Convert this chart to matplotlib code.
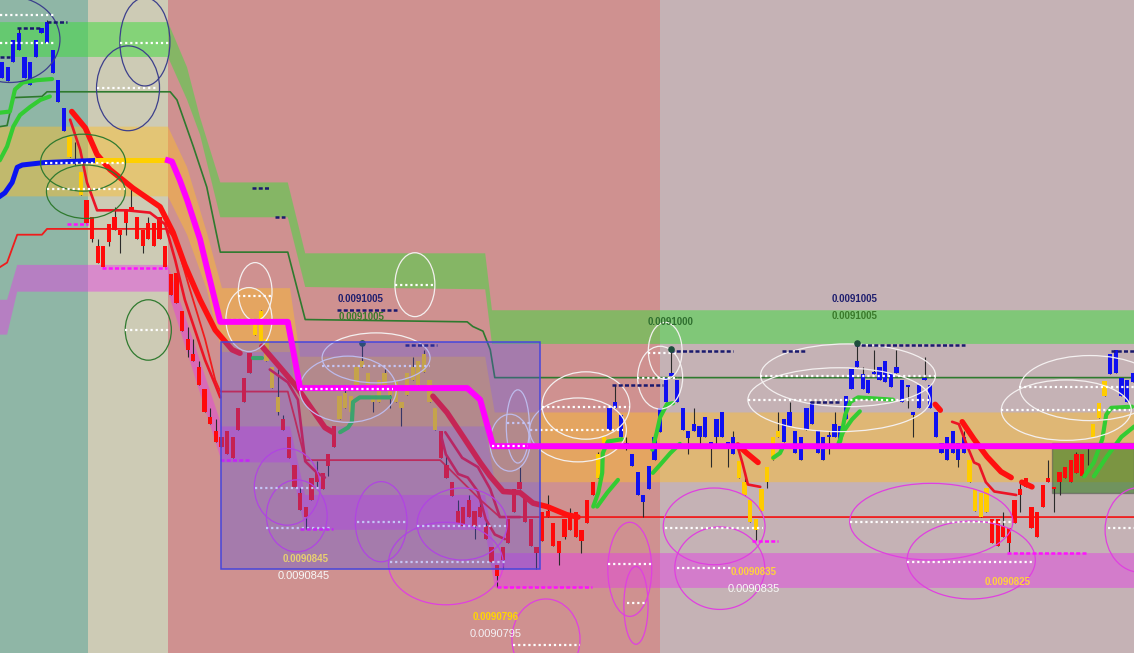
import numpy as np
import matplotlib.pyplot as plt
from matplotlib.patches import Ellipse, Rectangle

# prices in units of 0.0000001 (91005 -> 0.0091005)
opens = [91233, 91230, 91247, 91257, 91233, 91227, 91251, 91272, 91263, 91237, 91212, 91187,
         91165, 91161, 91132,
         91128, 91113, 91088, 91088, 91107, 91113, 91102, 91118, 91122, 91113, 91102, 91108, 91108, 91113, 91088,
         91064, 91065, 91032, 91008, 90995, 90984, 90965, 90941, 90929, 90924, 90929, 90924, 90949, 90975, 90996,
         91012, 91006, 90989, 90966, 90945,
         90939, 90924, 90900, 90876, 90864, 90889, 90894, 90893, 90909, 90933,
         90939, 90949, 90945, 90967, 90984, 90967, 90954, 90954, 90967, 90960, 90954, 90949, 90960, 90973, 90969,
         90980, 90954, 90930,
         90929, 90900, 90885, 90860, 90864, 90870, 90860, 90864, 90847, 90829, 90814, 90829, 90853, 90879, 90885,
         90874, 90853, 90829, 90859, 90860, 90850, 90834, 90853, 90857, 90859, 90844, 90870, 90885,
         90889, 90917,
         90930, 90949, 90924, 90916, 90899, 90874, 90868, 90879, 90904, 90928, 90954, 90976, 90954, 90930, 90923,
         90929, 90924, 90924, 90918, 90924, 90924, 90918, 90909,
         90889, 90874, 90851, 90844, 90860, 90885, 90904, 90924,
         90920, 90933, 90910, 90904, 90930, 90935, 90910, 90904, 90924, 90924, 90922, 90939, 90965, 90984, 90965,
         90962, 90978, 90973, 90971, 90967, 90979, 90954, 90967, 90943, 90949, 90973, 90949, 90924, 90910, 90904,
         90910, 90904, 90910,
         90885, 90860, 90855, 90859,
         90853, 90853, 90847, 90846, 90870, 90879, 90889, 90864, 90859, 90883, 90889, 90881, 90894, 90898, 90904,
         90909, 90909, 90917,
         90924, 90940, 90959,
         90978, 90979, 90959, 90954, 90971]
closes = [91247, 91242, 91266, 91272, 91251, 91247, 91266, 91276, 91281, 91257, 91231, 91207,
          91182, 91162, 91152,
          91108, 91094, 91074, 91070, 91092, 91102, 91098, 91108, 91118, 91094, 91088, 91094, 91088, 91094, 91070,
          91046, 91039, 91015, 90999, 90989, 90969, 90945, 90935, 90920, 90915, 90909, 90906, 90930, 90954, 90979,
          91022, 91032, 91008, 90984, 90958,
          90930, 90906, 90881, 90861, 90855, 90870, 90885, 90879, 90899, 90915,
          90959, 90962, 90959, 90984, 90989, 90979, 90960, 90973, 90979, 90969, 90973, 90954, 90979, 90984, 90989,
          90995, 90973, 90949,
          90906, 90889, 90873, 90850, 90847, 90855, 90847, 90855, 90836, 90816, 90804, 90818, 90833, 90859, 90879,
          90851, 90830, 90824, 90834, 90855, 90830, 90824, 90838, 90844, 90838, 90834, 90850, 90874,
          90909, 90924,
          90949, 90954, 90943, 90919, 90909, 90894, 90874, 90899, 90924, 90949, 90975, 90979, 90973, 90949, 90929,
          90935, 90933, 90941, 90919, 90939, 90945, 90919, 90924,
          90903, 90885, 90870, 90853, 90879, 90898, 90924, 90929,
          90939, 90945, 90929, 90924, 90949, 90954, 90929, 90924, 90926, 90935, 90933, 90959, 90982, 90989, 90978,
          90973, 90980, 90984, 90989, 90979, 90984, 90973, 90969, 90945, 90969, 90975, 90969, 90945, 90919, 90924,
          90929, 90919, 90924,
          90904, 90879, 90876, 90880,
          90833, 90830, 90838, 90833, 90850, 90874, 90881, 90846, 90838, 90864, 90885, 90879, 90885, 90889, 90885,
          90893, 90890, 90915,
          90935, 90953, 90972,
          90995, 90999, 90975, 90973, 90979]
highs = [91247, 91242, 91266, 91276, 91251, 91247, 91266, 91276, 91283, 91257, 91231, 91207,
         91182, 91178, 91152,
         91128, 91113, 91094, 91088, 91107, 91122, 91102, 91118, 91137, 91113, 91102, 91113, 91108, 91113, 91088,
         91064, 91065, 91032, 91019, 91008, 90989, 90965, 90949, 90939, 90924, 90929, 90924, 90949, 90975, 90996,
         91022, 91033, 91008, 90984, 90982,
         90943, 90924, 90900, 90880, 90864, 90889, 90903, 90893, 90909, 90933,
         90959, 90969, 90959, 90984, 91005, 90979, 90960, 90973, 90982, 90969, 90973, 90954, 90979, 90993, 90989,
         90999, 90973, 90949,
         90929, 90909, 90885, 90870, 90864, 90874, 90860, 90870, 90853, 90829, 90814, 90829, 90853, 90879, 90898,
         90874, 90853, 90829, 90859, 90874, 90850, 90834, 90853, 90863, 90859, 90844, 90870, 90885,
         90911, 90924,
         90949, 90969, 90943, 90924, 90909, 90894, 90874, 90899, 90924, 90949, 90975, 91000, 90973, 90949, 90929,
         90949, 90933, 90941, 90919, 90939, 90945, 90919, 90929,
         90903, 90894, 90870, 90853, 90879, 90898, 90924, 90945,
         90939, 90954, 90929, 90924, 90949, 90954, 90929, 90924, 90929, 90945, 90933, 90959, 90982, 91005, 90984,
         90973, 90999, 90984, 90989, 90979, 90999, 90973, 90969, 90945, 90969, 90993, 90969, 90945, 90919, 90924,
         90929, 90919, 90929,
         90904, 90879, 90876, 90880,
         90853, 90853, 90859, 90846, 90870, 90887, 90889, 90864, 90859, 90883, 90904, 90881, 90894, 90898, 90904,
         90911, 90909, 90917,
         90935, 90953, 90972,
         90995, 90999, 90975, 90973, 90979]
lows = [91233, 91230, 91247, 91257, 91233, 91227, 91251, 91272, 91263, 91237, 91212, 91187,
        91165, 91158, 91132,
        91108, 91092, 91074, 91070, 91088, 91102, 91082, 91098, 91118, 91094, 91082, 91094, 91088, 91094, 91070,
        91046, 91039, 91015, 90993, 90989, 90969, 90945, 90935, 90920, 90915, 90909, 90906, 90930, 90954, 90979,
        91012, 91006, 90989, 90966, 90943,
        90930, 90906, 90881, 90861, 90845, 90870, 90879, 90879, 90890, 90915,
        90939, 90949, 90939, 90967, 90984, 90967, 90945, 90954, 90967, 90949, 90954, 90933, 90960, 90973, 90969,
        90980, 90954, 90930,
        90906, 90889, 90873, 90850, 90847, 90855, 90836, 90855, 90836, 90816, 90795, 90810, 90833, 90859, 90879,
        90851, 90830, 90810, 90834, 90855, 90830, 90814, 90836, 90844, 90838, 90824, 90850, 90874,
        90889, 90917,
        90930, 90949, 90924, 90913, 90899, 90874, 90855, 90879, 90904, 90928, 90954, 90976, 90954, 90930, 90909,
        90929, 90916, 90924, 90898, 90917, 90924, 90898, 90909,
        90889, 90874, 90851, 90835, 90860, 90880, 90904, 90924,
        90920, 90933, 90910, 90904, 90930, 90935, 90910, 90904, 90909, 90924, 90922, 90939, 90965, 90984, 90965,
        90962, 90978, 90973, 90971, 90967, 90979, 90954, 90949, 90924, 90949, 90973, 90949, 90924, 90910, 90904,
        90910, 90898, 90910,
        90885, 90860, 90855, 90859,
        90833, 90830, 90838, 90825, 90850, 90859, 90881, 90846, 90838, 90864, 90885, 90859, 90874, 90889, 90885,
        90893, 90890, 90900,
        90924, 90940, 90959,
        90978, 90979, 90959, 90954, 90971]
# b = up trend (blue), y = neutral (gold), r = down trend (red)
trend_runs = [('b', 12), ('y', 3), ('r', 30), ('y', 5), ('r', 10), ('y', 18), ('r', 28), ('y', 2),
              ('b', 23), ('y', 8), ('b', 33), ('y', 4), ('r', 18), ('y', 3), ('b', 5)]
trend = [c for c, n in trend_runs for _ in range(n)]

# session boundaries in bar units and their tints
session_edges = [-0.4, 15.3, 29.5, 117.0, 201.3]
session_colors = ['#8fb6a6', '#cdcbb5', '#cf9190', '#c5b2b5']

# zone bands: bar, top, bottom
zone_x = {
    'green': [-0.4, 29.5, 32.9, 35.2, 38.8, 50.8, 53.9, 85.9, 87.1, 201.3],
    'orange': [-0.4, 29.5, 32.9, 36.4, 39.1, 51.2, 53.0, 85.9, 87.6, 201.3],
    'pink': [-0.4, 0.9, 2.7, 29.5, 39.1, 51.2, 53.9, 85.9, 87.6, 201.3],
}
zone_top = {
    'green': [91281, 91281, 91242, 91199, 91143, 91143, 91082, 91082, 91033, 91033],
    'orange': [91191, 91191, 91156, 91100, 91052, 91052, 90993, 90993, 90945, 90945],
    'pink': [91042, 91042, 91072, 91072, 90933, 90933, 90874, 90874, 90824, 90824],
}
zone_bot = {
    'green': [91251, 91251, 91214, 91184, 91113, 91113, 91053, 91051, 91004, 91004],
    'orange': [91131, 91131, 91098, 91051, 90997, 90997, 90933, 90933, 90885, 90885],
    'pink': [91012, 91012, 91049, 91049, 90902, 90902, 90844, 90844, 90794, 90794],
}
zone_colors = {'green': ('#3cdc3c', 0.5), 'orange': ('#ffbe28', 0.45), 'pink': ('#e63ce6', 0.45)}

# indicator lines (bar, price)
magenta_x = [29.5, 30.2, 31.6, 32.9, 35.2, 36.4, 38.8, 50.8, 53.0, 82.7, 85.0, 87.3, 201.3]
magenta_y = [91162, 91161, 91145, 91128, 91094, 91070, 91023, 91023, 90966, 90966, 90956, 90916, 90916]
blue_x = [-0.4, 0.5, 1.8, 2.7, 3.6, 7.3, 16.9]
blue_y = [91131, 91134, 91143, 91156, 91158, 91160, 91162]
gold_x = [16.9, 29.5]
gold_y = [91162, 91162]
dkgreen_x = [-0.4, 0.9, 2.0, 7.1, 8.0, 29.9, 31.1, 34.0, 36.4, 38.8, 50.8, 53.9, 82.7, 83.7, 85.5, 86.8, 87.6, 201.3]
dkgreen_y = [91191, 91192, 91216, 91217, 91221, 91221, 91214, 91174, 91139, 91083, 91083, 91025, 91023, 91019,
             91015, 90999, 90975, 90975]
thinred_x = [-0.4, 0.9, 2.7, 7.1, 8.0, 29.3, 30.8, 33.4, 36.1, 37.9, 38.8, 50.8, 52.1, 53.9, 77.9, 79.6, 85.0,
             88.5, 201.3]
thinred_y = [91070, 91074, 91098, 91098, 91103, 91103, 91094, 91051, 91008, 90973, 90963, 90963, 90939, 90904,
             90904, 90896, 90870, 90855, 90855]

red_thick = [
    ([12.4, 14.8, 16.9, 19.2, 23.3, 28.1, 30.4, 32.5, 35.2, 37.9, 40.9, 42.3],
     [91204, 91190, 91167, 91154, 91138, 91122, 91100, 91072, 91042, 91016, 90999, 90996]),
    ([46.2, 49.4, 52.4, 54.8, 57.4, 58.8], [91002, 90984, 90967, 90950, 90932, 90928]),
    ([76.6, 79.1, 82.0, 85.0, 86.8, 89.1, 92.1, 94.4, 96.9, 100.4, 102.4],
     [90959, 90945, 90924, 90902, 90890, 90877, 90876, 90867, 90864, 90857, 90855]),
    ([130.8, 132.4, 134.4], [90917, 90910, 90902]),
    ([170.7, 172.8, 175.1, 177.6, 179.4], [90937, 90922, 90907, 90894, 90889]),
    ([181.3, 183.1], [90885, 90881]),
    ([165.9, 166.8], [90952, 90947]),
]
red_mid = [
    ([12.1, 13.9, 15.1, 16.9, 22.2, 26.3, 29.0, 30.8, 32.5, 34.3, 36.1, 37.9, 38.8],
     [91197, 91171, 91143, 91119, 91119, 91117, 91107, 91076, 91042, 91016, 90990, 90969, 90958]),
    ([47.6, 50.8, 52.6, 53.9, 56.0, 57.4], [90982, 90971, 90956, 90903, 90893, 90889]),
    ([77.9, 78.9, 81.1, 82.8, 84.6, 86.0, 87.6, 89.4], [90928, 90909, 90892, 90889, 90877, 90853, 90840, 90836]),
    ([78.8, 81.8, 84.6, 86.8, 88.5, 92.1], [90928, 90906, 90898, 90879, 90855, 90855]),
    ([130.7, 131.6, 132.6, 134.8], [90917, 90902, 90883, 90881]),
    ([168.9, 170.1, 171.6, 172.8, 173.7, 174.9, 176.4, 180.3],
     [90937, 90935, 90916, 90902, 90900, 90885, 90877, 90874]),
]
green_thick = [
    ([-0.4, 0.9, 2.0, 3.2, 5.0, 6.8, 8.5], [91162, 91174, 91191, 91201, 91208, 91214, 91217]),
    ([-0.4, 1.4, 2.3, 3.7, 6.2, 8.9], [91203, 91204, 91223, 91229, 91231, 91232]),
    ([60.1, 61.5, 62.2, 62.4, 63.6, 69.0], [90928, 90932, 90937, 90954, 90958, 90958]),
    ([44.6, 46.2], [90992, 90992]),
    ([105.1, 106.0, 106.7, 106.8, 107.7, 110.2], [90864, 90876, 90893, 90910, 90920, 90922]),
    ([105.8, 107.6, 109.5], [90864, 90876, 90887]),
    ([115.7, 117.0, 118.8, 120.5], [90893, 90900, 90910, 90918]),
    ([115.6, 116.4, 117.0, 118.2, 119.3], [90913, 90928, 90941, 90952, 90953]),
    ([137.1, 138.3, 138.8], [90906, 90910, 90915]),
    ([148.6, 149.5, 151.1, 152.5], [90917, 90928, 90939, 90946]),
    ([149.0, 149.9, 150.8, 152.2, 158.4], [90920, 90943, 90954, 90958, 90956]),
    ([192.4, 194.1, 195.6, 196.3, 197.2, 200.9], [90890, 90902, 90922, 90943, 90949, 90950]),
    ([194.1, 196.4, 199.0, 201.3], [90890, 90907, 90924, 90933]),
]

# circles marking swing zones: bar, price, width (bars), height (price), colour
ellipses = [
    (1.4, 91266, 17.8, 74, '#3c3f8c'), (25.4, 91264, 8.9, 76, '#3c3f8c'), (22.4, 91224, 11.2, 73, '#3c3f8c'),
    (14.4, 91160, 15.1, 49, '#2f7a2f'), (14.9, 91135, 14.0, 46, '#2f7a2f'), (26.0, 91016, 8.2, 52, '#2f7a2f'),
    (45.0, 91049, 6.0, 50, '#f4f0f0'), (43.9, 91025, 8.2, 55, '#f4f0f0'), (73.4, 91055, 7.1, 55, '#f4f0f0'),
    (66.5, 90992, 19.2, 43, '#f4f0f0'), (61.5, 90965, 17.2, 57, '#f4f0f0'), (91.7, 90933, 4.1, 63, '#f4f0f0'),
    (90.3, 90919, 7.1, 49, '#f4f0f0'), (103.8, 90951, 15.6, 58, '#f4f0f0'), (102.4, 90930, 17.2, 55, '#f4f0f0'),
    (117.9, 90998, 6.0, 49, '#f4f0f0'), (117.0, 90975, 8.0, 54, '#f4f0f0'), (150.4, 90977, 31.1, 54, '#f4f0f0'),
    (148.8, 90956, 32.4, 55, '#f4f0f0'), (193.4, 90966, 24.9, 56, '#f4f0f0'), (189.2, 90947, 23.1, 52, '#f4f0f0'),
    (50.7, 90881, 11.7, 66, '#e040e0'), (52.4, 90856, 10.8, 62, '#e040e0'), (67.4, 90851, 9.2, 69, '#e040e0'),
    (81.8, 90849, 16.0, 62, '#e040e0'), (78.9, 90815, 20.4, 71, '#e040e0'), (96.7, 90750, 12.1, 69, '#e040e0'),
    (111.6, 90810, 7.8, 81, '#e040e0'), (112.7, 90779, 4.3, 67, '#e040e0'), (126.6, 90847, 18.1, 66, '#e040e0'),
    (127.6, 90811, 16.0, 71, '#e040e0'), (165.2, 90851, 29.0, 66, '#e040e0'), (172.3, 90818, 22.8, 67, '#e040e0'),
    (202.3, 90844, 12.4, 73, '#e040e0'),
]

# level marks: start bar, end bar, price
white_levels = [
    (-0.4, 9.4, 91287), (-0.4, 9.4, 91263), (21.0, 29.9, 91263), (16.9, 27.7, 91224), (7.6, 21.9, 91160),
    (8.0, 21.9, 91137), (21.9, 29.9, 91016), (42.0, 48.0, 91045), (39.8, 48.0, 91025), (69.9, 77.0, 91055),
    (56.9, 76.1, 90985), (53.0, 69.5, 90965), (45.0, 56.5, 90880), (46.9, 58.3, 90846), (63.1, 72.0, 90851),
    (73.8, 89.8, 90847), (69.0, 89.8, 90816), (90.8, 102.8, 90745), (89.8, 93.9, 90936), (87.1, 93.5, 90916),
    (96.0, 111.6, 90950), (93.9, 110.4, 90930), (114.8, 120.2, 90996), (112.9, 120.2, 90975),
    (117.9, 135.3, 90846), (120.0, 129.8, 90811), (107.7, 115.7, 90815), (111.1, 114.7, 90781),
    (134.8, 165.9, 90976), (132.6, 165.0, 90956), (150.8, 179.7, 90851), (160.9, 183.3, 90816),
    (180.8, 201.3, 90967), (177.6, 200.5, 90947), (196.6, 201.3, 90846),
]
navy_levels = [
    (2.7, 7.1, 91276), (8.0, 11.6, 91281), (-0.4, 1.4, 91251), (44.4, 47.6, 91138), (48.5, 50.3, 91113),
    (59.6, 70.2, 91033), (71.6, 77.3, 91003), (108.4, 117.5, 90969), (118.8, 130.0, 90998),
    (138.7, 143.1, 90998), (143.6, 149.0, 90954), (151.6, 171.2, 91003), (197.2, 201.3, 90998),
]
magenta_levels = [
    (11.6, 15.3, 91107), (17.8, 29.3, 91069), (38.8, 44.1, 90904), (53.0, 58.8, 90845),
    (88.0, 104.9, 90795), (133.3, 138.0, 90834), (178.7, 192.9, 90824),
]

# price labels: bar, price, text, colour, bold
labels = [
    (63.8, 91043, '0.0091005', '#1e1e6e', True), (64.0, 91027, '0.0091005', '#3a7a2a', True),
    (118.8, 91023, '0.0091000', '#2f6f2f', True), (151.6, 91043, '0.0091005', '#1e1e6e', True),
    (151.6, 91028, '0.0091005', '#3a7a2a', True), (53.9, 90819, '0.0090845', '#e8d070', True),
    (53.7, 90804, '0.0090845', '#f8f8f8', False), (87.8, 90769, '0.0090796', '#ffd700', True),
    (87.8, 90754, '0.0090795', '#f4f0f4', False), (133.7, 90808, '0.0090835', '#ffd23c', True),
    (133.7, 90793, '0.0090835', '#f8f8f8', False), (178.7, 90799, '0.0090825', '#ffd23c', True),
]
swing_dots = [(64, 91005), (119, 91000), (152, 91005)]

box_range = (38.9, 95.6, 90810, 91006)
green_box = (186.7, 201.3, 90876, 90919)

fig = plt.figure(figsize=(11.34, 6.53), dpi=100)
ax = fig.add_axes([0, 0, 1, 1])
ax.set_xlim(-0.36, 201.24)
ax.set_ylim(90738, 91300)
ax.axis('off')

for i in range(len(session_colors)):
    ax.axvspan(session_edges[i], session_edges[i + 1], color=session_colors[i], lw=0, zorder=0)

for name in ['pink', 'orange', 'green']:
    col, a = zone_colors[name]
    ax.fill_between(zone_x[name], zone_bot[name], zone_top[name], color=col, alpha=a, lw=0, zorder=1)

gx0, gx1, gy0, gy1 = green_box
ax.add_patch(Rectangle((gx0, gy0), gx1 - gx0, gy1 - gy0, facecolor='#2a7a18', alpha=0.55,
                       edgecolor='#555555', lw=1, zorder=2))

ax.plot(dkgreen_x, dkgreen_y, color='#2e7a2e', lw=1.2, zorder=3)
ax.plot(thinred_x, thinred_y, color='#f01c1c', lw=1.3, zorder=3)

bars = np.arange(len(opens))
cmap = {'b': '#1010f0', 'y': '#ffcc00', 'r': '#ff0a0a'}
body_lo = np.minimum(opens, closes)
body_hi = np.maximum(opens, closes)
ax.vlines(bars, lows, highs, color='#2a2a2a', lw=0.8, zorder=4)
ax.bar(bars, np.maximum(body_hi - body_lo, 1.5), bottom=body_lo, width=0.76,
       color=[cmap[t] for t in trend], lw=0, zorder=4.5)

for xs, ys in red_mid:
    ax.plot(xs, ys, color='#ec1426', lw=1.9, zorder=5, solid_capstyle='round')
for xs, ys in red_thick:
    ax.plot(xs, ys, color='#ff1010', lw=4.0, zorder=5, solid_capstyle='round')
for xs, ys in green_thick:
    ax.plot(xs, ys, color='#33cc33', lw=3.0, zorder=5, solid_capstyle='round')
ax.plot(blue_x, blue_y, color='#0a14f0', lw=3.6, zorder=5)
ax.plot(gold_x, gold_y, color='#ffd000', lw=3.6, zorder=5)

for cx, cy, w, h, col in ellipses:
    ax.add_patch(Ellipse((cx, cy), w, h, fill=False, ec=col, lw=0.9, zorder=6))
for x0, x1, y in white_levels:
    ax.plot([x0, x1], [y, y], color='white', lw=1.6, ls=(0, (1, 1.3)), zorder=6.5)
for x0, x1, y in navy_levels:
    ax.plot([x0, x1], [y, y], color='#1a1a6e', lw=1.8, ls=(0, (1.6, 0.9)), zorder=6.5)
for x0, x1, y in magenta_levels:
    ax.plot([x0, x1], [y, y], color='#ff10ff', lw=1.8, ls=(0, (1.6, 0.9)), zorder=6.5)
ax.scatter([d[0] for d in swing_dots], [d[1] for d in swing_dots], s=14, color='#1d4d3d', zorder=6.6)

bx0, bx1, by0, by1 = box_range
ax.add_patch(Rectangle((bx0, by0), bx1 - bx0, by1 - by0, facecolor='#5050e6', alpha=0.33,
                       edgecolor='none', zorder=7))
ax.add_patch(Rectangle((bx0, by0), bx1 - bx0, by1 - by0, fill=False, edgecolor='#4646dc', lw=1.1, zorder=7.1))

ax.plot(magenta_x, magenta_y, color='#ff00ff', lw=4.3, zorder=8)
ax.plot([53.0, 69.5], [90965, 90965], color='white', lw=1.6, ls=(0, (1, 1.3)), zorder=8.5)
ax.plot([87.1, 93.5], [90916, 90916], color='white', lw=1.6, ls=(0, (1, 1.3)), zorder=8.5)

for x, y, s, col, bold in labels:
    ax.text(x, y, s, color=col, ha='center', va='center', family='Liberation Sans',
            fontsize=7 if bold else 8, fontweight='bold' if bold else 'normal', zorder=9)

plt.savefig('out.png', dpi=100)
